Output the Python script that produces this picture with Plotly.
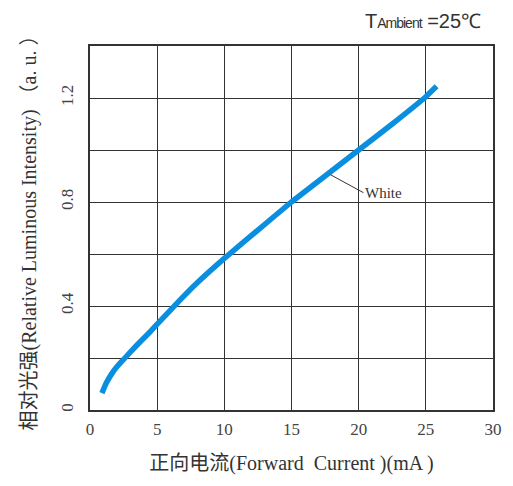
import plotly.graph_objects as go

current_ma = [0.89, 1.2, 1.6, 2.0, 2.6, 3.5, 4.5, 5.0, 6.2, 8.0, 10.0, 12.5, 15.0, 17.5, 20.0, 22.5, 25.0, 25.8]
rel_intensity = [0.065, 0.103, 0.138, 0.166, 0.2, 0.25, 0.302, 0.33, 0.396, 0.49, 0.583, 0.692, 0.8, 0.9, 1.0, 1.1, 1.205, 1.245]

x_tickvals = [0, 5, 10, 15, 20, 25, 30]
x_ticktext = ["0", "5", "10", "15", "20", "25", "30"]
y_tickvals = [0, 0.2, 0.4, 0.6, 0.8, 1.0, 1.2, 1.4]
y_ticktext = ["0", "", "0.4", "", "0.8", "", "1.2", ""]

series_name = "White"
x_title = "正向电流(Forward  Current )(mA )"
y_title = "相对光强(Relative Luminous Intensity) （a. u. ）"

FONT = "'Liberation Serif', 'Times New Roman', 'Noto Sans CJK SC', serif"
GRID = "#333333"

# page has an 8px body margin, so the figure is shifted by 8px
OFF = 8
W, H = 513 - OFF, 486 - OFF
L, R, T, B = 90 - OFF, 20, 46 - OFF, 76
PW, PH = W - L - R, H - T - B

fig = go.Figure()
fig.add_trace(go.Scatter(
    x=current_ma, y=rel_intensity, mode="lines", name=series_name,
    line=dict(color="#0a8fe0", width=5.5, shape="spline", smoothing=0.3),
    showlegend=False,
))

fig.add_annotation(
    x=17.9, y=0.905, xref="x", yref="y", text=series_name,
    showarrow=True, arrowhead=0, arrowwidth=1, arrowcolor="#333333",
    ax=33, ay=18, xanchor="left", yanchor="middle",
    font=dict(family=FONT, size=15, color="#333333"),
)
fig.add_annotation(
    x=(483 - OFF - L) / PW, y=1 + T / PH,
    xref="paper", yref="paper", xanchor="right", yanchor="top",
    text="T<span style='font-size:14px;letter-spacing:-1px'>Ambient</span> =25℃",
    showarrow=False,
    font=dict(family="'Liberation Sans', Arial, sans-serif", size=20, color="#333333"),
)

fig.update_xaxes(
    range=[0, 30], tickvals=x_tickvals, ticktext=x_ticktext, automargin=False,
    showgrid=True, gridcolor=GRID, gridwidth=1.3,
    showline=True, linecolor=GRID, linewidth=1.5, mirror=True,
    ticks="outside", ticklen=3, tickcolor="rgba(0,0,0,0)", zeroline=False,
    tickfont=dict(family=FONT, size=17, color="#444444"),
    title=dict(text=x_title, font=dict(family=FONT, size=20, color="#333333"), standoff=18),
)
fig.update_yaxes(
    range=[0, 1.4], tickvals=y_tickvals, ticktext=y_ticktext, tickangle=-90, automargin=False,
    showgrid=True, gridcolor=GRID, gridwidth=1.3,
    showline=True, linecolor=GRID, linewidth=1.5, mirror=True,
    ticks="outside", ticklen=8, tickcolor="rgba(0,0,0,0)", zeroline=False,
    tickfont=dict(family=FONT, size=17, color="#444444"),
    title=dict(text=y_title, font=dict(family=FONT, size=20, color="#333333"), standoff=16),
)

fig.update_layout(
    width=W, height=H,
    margin=dict(l=L, r=R, t=T, b=B),
    paper_bgcolor="white", plot_bgcolor="white",
)

fig.write_html("out.html")
